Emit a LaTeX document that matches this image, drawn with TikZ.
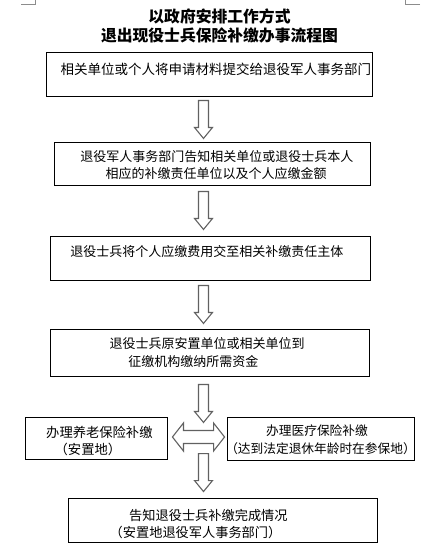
\documentclass[tikz,border=0pt]{standalone}
\usepackage{fontspec}
\setmainfont{Noto Sans CJK SC}
\usetikzlibrary{calc}
\tikzset{
  x=1pt, y=-1pt,
  box/.style={draw=black, line width=0.9pt, fill=white, inner sep=0pt},
  txt/.style={anchor=west, inner sep=0pt, font=\fontsize{13}{15}\selectfont},
  ctxt/.style={anchor=center, inner sep=0pt, font=\fontsize{12.7}{15}\selectfont},
  ttl/.style={anchor=center, inner sep=0pt, font=\fontsize{15.8}{18}\selectfont\bfseries},
  blockarrow/.style={draw=black!62, fill=white, line width=1.1pt, line join=miter},
  cropmark/.style={draw=black!45, line width=0.8pt},
  downarr/.pic={
    \path[blockarrow] (-5,0) -- (5,0) -- (5,27) -- (9,27) -- (0,38) -- (-9,27) -- (-5,27) -- cycle;
  }
}
\begin{document}
\begin{tikzpicture}
\useasboundingbox (0,0) rectangle (439,547);
% page corner marks
\draw[cropmark] (21,4) -- (35,4) -- (35,0);
\draw[cropmark] (420,4) -- (405,4) -- (405,0);
% title
\node[ttl] (title1) at (219.5,16) {以政府安排工作方式};
\node[ttl] (title2) at (219.5,35.5) {退出现役士兵保险补缴办事流程图};
% boxes
\node[box, minimum width=326, minimum height=44] (b1) at (209,74) {};
\node[box, minimum width=316, minimum height=43] (b2) at (212,163.5) {};
\node[box, minimum width=320, minimum height=44] (b3) at (210,258) {};
\node[box, minimum width=319, minimum height=47] (b4) at (209.5,352.5) {};
\node[box, minimum width=142, minimum height=42] (bL) at (96,438) {};
\node[box, minimum width=187, minimum height=43] (bR) at (320.5,438.5) {};
\node[box, minimum width=309, minimum height=44] (b6) at (222.5,520) {};
% texts
\node[txt, font=\fontsize{13.5}{15}\selectfont] (t1) at (60.5,69) {相关单位或个人将申请材料提交给退役军人事务部门};
\node[txt] (t2a) at (80.2,157) {退役军人事务部门告知相关单位或退役士兵本人};
\node[txt] (t2b) at (105.5,174) {相应的补缴责任单位以及个人应缴金额};
\node[txt] (t3) at (70.2,251.5) {退役士兵将个人应缴费用交至相关补缴责任主体};
\node[txt] (t4a) at (109.5,343.5) {退役士兵原安置单位或相关单位到};
\node[txt] (t4b) at (128.2,361.5) {征缴机构缴纳所需资金};
\node[txt, font=\fontsize{13.3}{15}\selectfont] (tLa) at (46,432) {办理养老保险补缴};
\node[txt, font=\fontsize{13.3}{15}\selectfont] (tLb) at (54.5,449) {（安置地）};
\node[ctxt] (tRa) at (317,431) {办理医疗保险补缴};
\node[ctxt] (tRb) at (320.5,449) {（达到法定退休年龄时在参保地）};
\node[txt, font=\fontsize{13.2}{15}\selectfont] (t6a) at (129,515) {告知退役士兵补缴完成情况};
\node[txt, font=\fontsize{13.2}{15}\selectfont] (t6b) at (109.5,532.5) {（安置地退役军人事务部门）};
% block arrows between boxes
\coordinate (a1) at ($(b1.south)+(-5.5,4)$);
\coordinate (a2) at ($(b2.south)+(-8.5,6)$);
\coordinate (a3) at ($(b3.south)+(-6.5,5)$);
\coordinate (a4) at ($(b4.south)+(-6,8)$);
\coordinate (a5) at ($(b6.north)+(-19,-44)$);
\pic at (a1) {downarr};
\pic at (a2) {downarr};
\pic at (a3) {downarr};
\pic at (a4) {downarr};
\pic at (a5) {downarr};
% double arrow between side boxes
\coordinate (dl) at ($(bL.east)+(5,-1)$);
\coordinate (dr) at ($(bR.west)+(-2,-1.5)$);
\path[blockarrow] (dl) -- ++(11,-14) -- ++(0,7.5) -- ($(dr)+(-11,-6.5)$) -- ++(0,-7.5) -- (dr)
  -- ++(-11,14) -- ++(0,-7.5) -- ($(dl)+(11,6.5)$) -- ++(0,7.5) -- cycle;
\end{tikzpicture}
\end{document}
